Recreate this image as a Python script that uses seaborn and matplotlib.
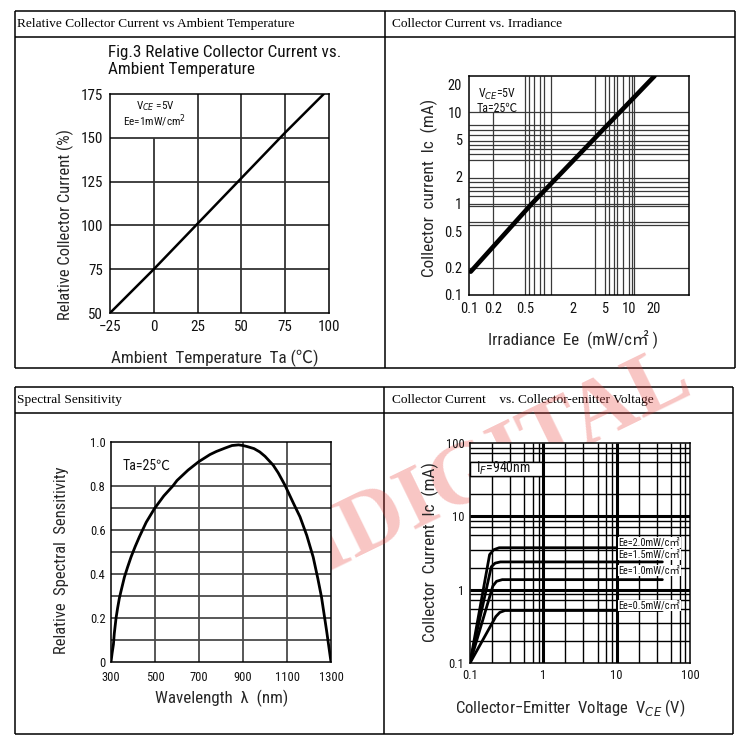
import matplotlib
matplotlib.use("Agg")
import matplotlib.pyplot as plt
import pandas as pd
import seaborn as sns
from matplotlib import font_manager
from matplotlib.patches import Rectangle

W, H = 750, 752

# Fig.3 relative collector current vs ambient temperature
temp_c = [-25, 0, 25, 50, 75, 97]
rel_current = [50, 75, 101, 127, 153, 175]

# collector current vs irradiance (log-log)
irr_ee = [0.105, 0.61, 20.8]
irr_ic = [0.18, 1.0, 25.0]
irr_xticks = [0.1, 0.2, 0.5, 2, 5, 10, 20]
irr_yticks = [0.1, 0.2, 0.5, 1, 2, 5, 10, 20]
irr_xgrid = [0.5, 0.56, 0.65, 0.76, 0.86, 1.05, 3.7, 5, 5.6, 6.5, 7, 8.5, 10, 10.8, 11.6]
irr_ygrid = [0.2, 0.59, 0.63, 0.95, 1.0, 1.2, 1.36, 1.53, 1.72, 1.92,
             3.0, 3.5, 4.0, 4.4, 4.85, 5.6, 6.4, 7.2, 10]

# spectral sensitivity
wavelength = [300, 305, 311, 315, 323, 330, 338, 345, 361, 375, 391, 410, 429, 460,
              498, 540, 581, 600, 650, 698, 750, 779, 820, 850, 880, 900, 920,
              950, 976, 1000, 1037, 1060, 1090, 1130, 1159, 1190, 1219, 1240,
              1257, 1280, 1300]
sensitivity = [0, 0.04, 0.08, 0.13, 0.20, 0.245, 0.29, 0.32, 0.386, 0.43, 0.477,
               0.525, 0.569, 0.635, 0.698, 0.755, 0.80, 0.825, 0.872, 0.91, 0.943,
               0.957, 0.973, 0.984, 0.987, 0.984, 0.979, 0.970, 0.955, 0.935, 0.895,
               0.86, 0.805, 0.72, 0.66, 0.575, 0.477, 0.38, 0.294, 0.142, 0]

# collector current vs collector-emitter voltage
ee_levels = ["2.0", "1.5", "1.0", "0.5"]
vce_curves = [
    [0.1, 0.185, 0.21, 0.25, 42],
    [0.1, 0.195, 0.22, 0.26, 42],
    [0.1, 0.205, 0.23, 0.275, 42],
    [0.1, 0.225, 0.255, 0.30, 42],
]
ic_curves = [
    [0.1, 3.0, 3.5, 3.73, 3.73],
    [0.1, 2.05, 2.3, 2.39, 2.39],
    [0.1, 1.12, 1.3, 1.37, 1.37],
    [0.1, 0.43, 0.49, 0.52, 0.52],
]
ee_label_ic = [4.36, 3.03, 1.83, 0.61]
decades = [0.1, 1, 10]
minor_mults = [2, 3.5, 5.5, 7.2, 8.6]

sns.set_theme(style="white")
names = {f.name for f in font_manager.fontManager.ttflist}
if "Liberation Sans Narrow" in names:
    chart_font, fs = "Liberation Sans Narrow", 1.0
elif "Roboto Condensed" in names:
    chart_font, fs = "Roboto Condensed", 0.95
else:
    chart_font, fs = "Liberation Sans", 0.84
plt.rcParams["font.family"] = [chart_font, "Noto Sans CJK SC", "DejaVu Sans"]
plt.rcParams["axes.edgecolor"] = "black"
plt.rcParams["axes.linewidth"] = 1.1
plt.rcParams["text.color"] = "#111111"

fig = plt.figure(figsize=(W / 100, H / 100), dpi=100, facecolor="white")


def px_axes(left, top, right, bottom):
    ax = fig.add_axes([left / W, 1 - bottom / H, (right - left) / W, (bottom - top) / H])
    ax.set_facecolor("white")
    for s in ax.spines.values():
        s.set_visible(True)
        s.set_color("black")
        s.set_linewidth(1.1)
        s.set_zorder(5)
    return ax


def style_ticks(ax, size, pad, xpad=None):
    ax.tick_params(length=0, labelsize=size * fs, pad=pad, colors="#111111")
    if xpad is not None:
        ax.tick_params(axis="x", pad=xpad)
    ax.minorticks_off()


# table frame + header row, drawn in pixel space
bg = fig.add_axes([0, 0, 1, 1], zorder=-2)
bg.set_xlim(0, W)
bg.set_ylim(H, 0)
bg.axis("off")
line_kw = dict(color="black", lw=1.1)
bg.hlines([11, 37, 368], 15, 735, **line_kw)
bg.vlines([15, 385, 735], 11, 368, **line_kw)
bg.hlines([387, 413, 734], 15, 733, **line_kw)
bg.vlines([15, 384, 733], 387, 734, **line_kw)
head_kw = dict(va="center", ha="left", family="Liberation Serif", fontsize=9.6, color="black")
bg.text(17, 24, "Relative Collector Current vs Ambient Temperature", **head_kw)
bg.text(392, 24, "Collector Current vs. Irradiance", **head_kw)
bg.text(17, 400, "Spectral Sensitivity", **head_kw)
bg.text(392, 400, "Collector Current    vs. Collector-emitter Voltage", **head_kw)

# faint watermark behind the plot areas
fig.text(500 / W, 1 - 462 / H, "IDIGITAL", rotation=26, rotation_mode="anchor",
         ha="center", va="center", family="Liberation Serif", weight="bold",
         fontsize=64, color="#e8413c", alpha=0.3, zorder=-1)

# ---- panel 1: relative collector current vs temperature ----
ax1 = px_axes(110, 94, 329, 313)
g1 = dict(color="#333333", lw=1.3, zorder=1)
ax1.vlines(0, 50, 150, **g1)
ax1.vlines([25, 50, 75], 50, 175, **g1)
ax1.hlines([75, 100, 125, 150], -25, 100, **g1)
sns.lineplot(x=temp_c, y=rel_current, color="black", lw=1.8, ax=ax1, zorder=3)
ax1.set_xlim(-25, 100)
ax1.set_ylim(50, 175)
ax1.set_xticks(range(-25, 101, 25))
ax1.set_yticks(range(50, 176, 25))
style_ticks(ax1, 11.5, 5)
ax1.set_xlabel("Ambient  Temperature  Ta (\u2103)", fontsize=13 * fs, va="center")
ax1.xaxis.set_label_coords(0.48, -0.205)
ax1.set_ylabel("Relative Collector Current (%)", fontsize=12.5 * fs, va="center")
ax1.yaxis.set_label_coords(-0.205, 0.406)
ax1.text(-0.01, 1.151, "Fig.3 Relative Collector Current vs.\nAmbient Temperature",
         transform=ax1.transAxes, ha="left", va="center", fontsize=13 * fs)
ax1.text(0.205, 0.909, "V$_{CE}$ =5V\nEe=1mW/cm$^{2}$", transform=ax1.transAxes,
         ha="center", va="center", fontsize=8.5 * fs, linespacing=1.0)

# ---- panel 2: collector current vs irradiance ----
ax2 = px_axes(469, 76, 689, 295)
ax2.set_xscale("log")
ax2.set_yscale("log")
g2 = dict(color="#3a3a3a", lw=0.9, zorder=1)
ax2.vlines(0.2, 0.1, 10, **g2)
ax2.vlines(irr_xgrid, 0.1, 25, **g2)
ax2.hlines(irr_ygrid, 0.1, 56, **g2)
sns.lineplot(x=irr_ee, y=irr_ic, color="black", lw=3.3, ax=ax2, zorder=3)
ax2.set_xlim(0.1, 56)
ax2.set_ylim(0.1, 25)
ax2.set_xticks(irr_xticks, [f"{v:g}" for v in irr_xticks])
ax2.set_yticks(irr_yticks, [f"{v:g}" for v in irr_yticks])
style_ticks(ax2, 11, 5)
ax2.set_xlabel("Irradiance  Ee  (mW/c\u33a1 )", fontsize=12.8 * fs, va="center")
ax2.xaxis.set_label_coords(0.473, -0.205)
ax2.set_ylabel("Collector  current  Ic  (mA)", fontsize=13 * fs, va="center")
ax2.yaxis.set_label_coords(-0.182, 0.489)
ax2.text(0.127, 0.886, "V$_{CE}$=5V\nTa=25\u2103", transform=ax2.transAxes,
         ha="center", va="center", fontsize=9 * fs, linespacing=1.0)

# ---- panel 3: spectral sensitivity ----
ax3 = px_axes(111, 442, 331, 662)
g3 = dict(color="#4a4a4a", lw=1.3, zorder=1)
ax3.vlines(500, 0, 0.8, **g3)
ax3.vlines([700, 900, 1100], 0, 1.0, **g3)
ax3.hlines([0.1, 0.2, 0.3, 0.4, 0.5, 0.6, 0.7, 0.8], 300, 1300, **g3)
ax3.hlines(0.9, 700, 1300, **g3)
sns.lineplot(x=wavelength, y=sensitivity, color="black", lw=2.0, ax=ax3, zorder=3)
ax3.set_xlim(300, 1300)
ax3.set_ylim(0, 1.0)
ax3.set_xticks(range(300, 1301, 200))
ax3.set_yticks([0, 0.2, 0.4, 0.6, 0.8, 1.0], ["0", "0.2", "0.4", "0.6", "0.8", "1.0"])
style_ticks(ax3, 9.5, 4, xpad=6.5)
ax3.set_xlabel("Wavelength  \u03bb  (nm)", fontsize=12.8 * fs, va="center")
ax3.xaxis.set_label_coords(0.505, -0.164)
ax3.set_ylabel("Relative  Spectral  Sensitivity", fontsize=12.5 * fs, va="center")
ax3.yaxis.set_label_coords(-0.223, 0.464)
ax3.text(0.164, 0.891, "Ta=25\u2103", transform=ax3.transAxes,
         ha="center", va="center", fontsize=10.5 * fs)

# ---- panel 4: collector current vs collector-emitter voltage ----
ax4 = px_axes(470, 443, 690, 663)
ax4.set_xscale("log")
ax4.set_yscale("log")
minor = [d * m for d in decades for m in minor_mults]
g4 = dict(color="black", lw=1.0, zorder=1)
ax4.vlines(minor, 0.1, 100, **g4)
ax4.hlines(minor, 0.1, 100, **g4)
ax4.add_patch(Rectangle((0.1, 35), 0.9, 20, facecolor="white", edgecolor="black",
                        lw=1.0, zorder=1.5))
ax4.vlines([1, 10], 0.1, 100, color="black", lw=2.2, zorder=2)
ax4.hlines([1, 10], 0.1, 100, color="black", lw=2.2, zorder=2)

frames = []
for lvl, vce, ic in zip(ee_levels, vce_curves, ic_curves):
    frames.append(pd.DataFrame({"vce": vce, "ic": ic, "ee": lvl}))
ce = pd.concat(frames, ignore_index=True)
sns.lineplot(data=ce, x="vce", y="ic", hue="ee", palette=["black"] * 4,
             estimator=None, lw=2.0, legend=False, ax=ax4, zorder=3)
for lvl, y in zip(ee_levels, ee_label_ic):
    ax4.text(10.6, y, f"Ee={lvl}mW/c\u33a1", ha="left", va="center",
             fontsize=7.8 * fs, zorder=4,
             bbox=dict(facecolor="white", edgecolor="none", pad=0.5))
ax4.text(0.15, 0.886, "I$_{F}$=940nm", transform=ax4.transAxes,
         ha="center", va="center", fontsize=10.5 * fs, zorder=4)
ax4.set_xlim(0.1, 100)
ax4.set_ylim(0.1, 100)
ax4.set_xticks([0.1, 1, 10, 100], ["0.1", "1", "10", "100"])
ax4.set_yticks([0.1, 1, 10, 100], ["0.1", "1", "10", "100"])
style_ticks(ax4, 9.5, 4)
ax4.set_xlabel("Collector\u2212Emitter  Voltage  V$_{CE}$ (V)", fontsize=12.6 * fs, va="center")
ax4.xaxis.set_label_coords(0.455, -0.205)
ax4.set_ylabel("Collector  Current  Ic  (mA)", fontsize=13 * fs, va="center")
ax4.yaxis.set_label_coords(-0.182, 0.505)

fig.savefig("out.png", dpi=100, facecolor="white")
